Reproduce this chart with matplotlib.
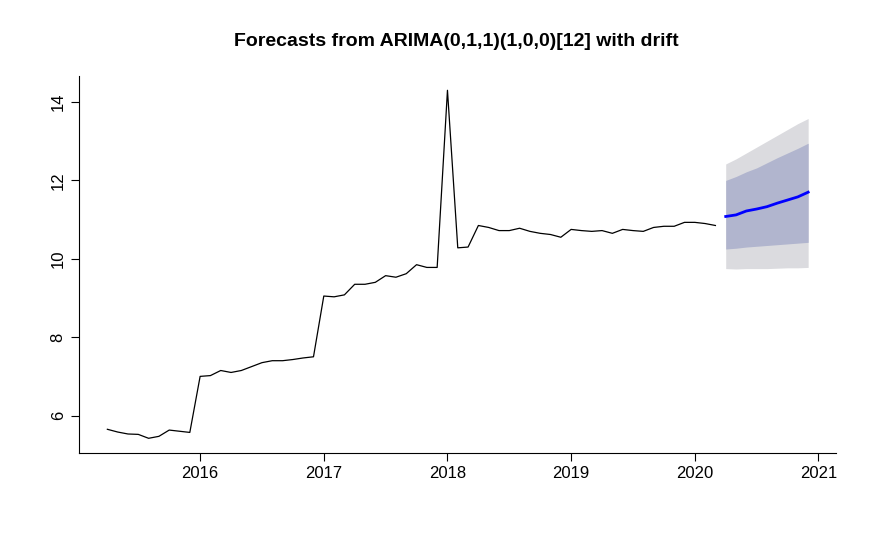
import matplotlib.pyplot as plt
import numpy as np

plt.rcParams['font.family'] = ['Liberation Sans', 'DejaVu Sans']

# monthly history, Apr 2015 - Mar 2020
start_year = 2015 + 3 / 12
history = [5.65, 5.58, 5.53, 5.52, 5.42, 5.47, 5.63, 5.60, 5.57,
           7.00, 7.02, 7.15, 7.10, 7.15, 7.25, 7.35, 7.40, 7.40, 7.43, 7.47, 7.50,
           9.05, 9.03, 9.08, 9.35, 9.35, 9.40, 9.57, 9.53, 9.62, 9.85, 9.78, 9.78,
           14.30, 10.28, 10.30, 10.85, 10.80, 10.72, 10.72, 10.78, 10.70, 10.65, 10.62, 10.55,
           10.75, 10.72, 10.70, 10.72, 10.65, 10.75, 10.72, 10.70, 10.80, 10.83, 10.83, 10.93,
           10.93, 10.90, 10.85]
# forecast Apr 2020 - Dec 2020
forecast = [11.08, 11.12, 11.22, 11.27, 11.33, 11.42, 11.50, 11.58, 11.70]
lo80 = [10.25, 10.27, 10.30, 10.32, 10.34, 10.36, 10.38, 10.40, 10.42]
hi80 = [12.00, 12.10, 12.22, 12.32, 12.45, 12.58, 12.70, 12.82, 12.95]
lo95 = [9.75, 9.74, 9.75, 9.75, 9.75, 9.76, 9.77, 9.77, 9.78]
hi95 = [12.42, 12.55, 12.70, 12.85, 13.00, 13.15, 13.30, 13.45, 13.58]

t_hist = start_year + np.arange(len(history)) / 12
t_fc = t_hist[-1] + (1 + np.arange(len(forecast))) / 12

fig = plt.figure(figsize=(8.77, 5.52), dpi=100)
ax = fig.add_axes([0.090, 0.179, 0.863, 0.683])
ax.fill_between(t_fc, lo95, hi95, color='#DBDBDF', linewidth=0)
ax.fill_between(t_fc, lo80, hi80, color='#B1B5CE', linewidth=0)
ax.plot(t_hist, history, color='black', linewidth=0.9)
ax.plot(t_fc, forecast, color='#0000FF', linewidth=2)

ax.set_xlim(2015.02, 2021.14)
ax.set_ylim(5.04, 14.66)
ax.set_xticks([2016, 2017, 2018, 2019, 2020, 2021])
ax.set_yticks([6, 8, 10, 12, 14])
ax.tick_params(labelsize=12, length=6)
for lab in ax.get_yticklabels():
    lab.set_rotation(90)
    lab.set_va('center')
ax.spines['top'].set_visible(False)
ax.spines['right'].set_visible(False)
fig.suptitle('Forecasts from ARIMA(0,1,1)(1,0,0)[12] with drift',
             fontsize=14, fontweight='bold', y=0.94, x=0.52)
fig.savefig('out.png')
